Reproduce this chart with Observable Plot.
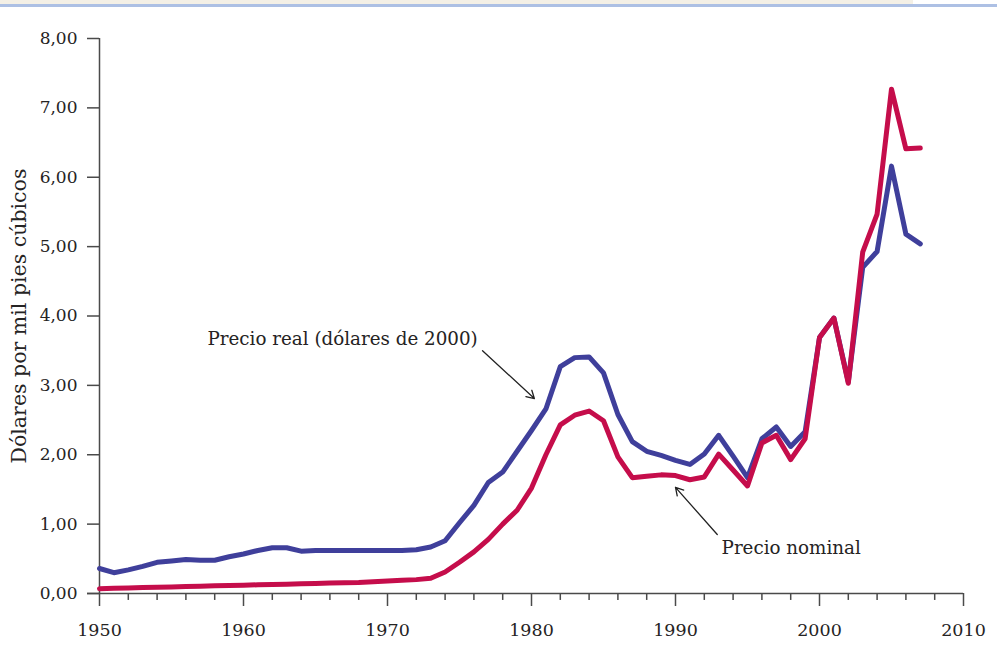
<!DOCTYPE html>
<html><head><meta charset="utf-8">
<script src="https://cdn.jsdelivr.net/npm/d3@7"></script>
<script src="https://cdn.jsdelivr.net/npm/@observablehq/plot@0.6"></script>
<style>
body{margin:0;background:#fff;}
#chart{position:absolute;left:0;top:0;}
#top1{position:absolute;left:0;top:0;width:913px;height:4px;background:#f4f0e6;}
#top2{position:absolute;left:0;top:4px;width:997px;height:3px;background:#adc0e4;}
</style></head><body>
<div id="chart"></div><div id="top1"></div><div id="top2"></div>
<script>
const years = [1950,1951,1952,1953,1954,1955,1956,1957,1958,1959,
  1960,1961,1962,1963,1964,1965,1966,1967,1968,1969,
  1970,1971,1972,1973,1974,1975,1976,1977,1978,1979,
  1980,1981,1982,1983,1984,1985,1986,1987,1988,1989,
  1990,1991,1992,1993,1994,1995,1996,1997,1998,1999,
  2000,2001,2002,2003,2004,2005,2006,2007];
const realPrice = [0.36,0.30,0.34,0.39,0.45,0.47,0.49,0.48,0.48,0.53,
  0.57,0.62,0.66,0.66,0.61,0.62,0.62,0.62,0.62,0.62,
  0.62,0.62,0.63,0.67,0.76,1.02,1.27,1.60,1.75,2.05,
  2.35,2.66,3.27,3.40,3.41,3.18,2.58,2.19,2.05,1.99,
  1.92,1.86,2.01,2.28,1.98,1.67,2.23,2.40,2.12,2.33,
  3.69,3.97,3.05,4.70,4.93,6.16,5.18,5.04];
const nominalPrice = [0.07,0.075,0.08,0.085,0.09,0.095,0.10,0.105,0.11,0.115,
  0.12,0.125,0.13,0.135,0.14,0.145,0.15,0.155,0.16,0.17,
  0.18,0.19,0.20,0.22,0.31,0.45,0.60,0.78,1.00,1.20,
  1.52,2.00,2.43,2.57,2.63,2.49,1.97,1.67,1.69,1.71,
  1.70,1.64,1.68,2.01,1.78,1.55,2.17,2.28,1.93,2.23,
  3.69,3.97,3.03,4.92,5.47,7.27,6.41,6.42];
const yTicks = [0,1,2,3,4,5,6,7,8];
const majorYears = [1950,1960,1970,1980,1990,2000,2010];
const minorYears = [1952,1954,1956,1958,1962,1964,1966,1968,1972,1974,1976,1978,1982,1984,1986,1988,1992,1994,1996,1998,2002,2004,2006,2008];
const seriesNames = ["Precio real (dólares de 2000)", "Precio nominal"];
const seriesColors = ["#3f3f9b", "#c50d4b"];
const yLabel = "Dólares por mil pies cúbicos";

const realData = years.map((y,i)=>({year:y, value:realPrice[i]}));
const nomData = years.map((y,i)=>({year:y, value:nominalPrice[i]}));
const notes = [
  {text: seriesNames[0], x: 1957.5, y: 3.66, x1: 1976.6, y1: 3.50, x2: 1980.2, y2: 2.81},
  {text: seriesNames[1], x: 1993.2, y: 0.65, x1: 1992.9, y1: 0.85, x2: 1990.0, y2: 1.53}
];
const axisColor = "#4a4a4a";
const textColor = "#252323";
const font = "'DejaVu Serif', serif";

const chart = Plot.plot({
  width: 997, height: 653,
  marginLeft: 99, marginRight: 34, marginTop: 38, marginBottom: 60,
  x: {domain: [1950, 2010]},
  y: {domain: [0, 8]},
  style: {fontFamily: font, fontSize: "17px", color: textColor, background: "white"},
  marks: [
    Plot.axisY({ticks: yTicks, tickSize: 12, tickPadding: 10, stroke: axisColor, strokeWidth: 1.5,
      tickFormat: d => d.toFixed(2).replace(".", ","), label: null, fontSize: 17, fill: textColor}),
    Plot.axisX({ticks: majorYears, tickSize: 13, tickPadding: 17, stroke: axisColor, strokeWidth: 1.5,
      tickFormat: d => String(d), label: null, fontSize: 17.5, fill: textColor}),
    Plot.ruleX(minorYears, {x: d => d, y1: 0, y2: -0.1, stroke: axisColor, strokeWidth: 1.5}),
    Plot.ruleY([0], {x1: 1949.17, x2: 2010, stroke: axisColor, strokeWidth: 1.5}),
    Plot.ruleX([1950], {y1: 0, y2: 8, stroke: axisColor, strokeWidth: 1.5}),
    Plot.text([yLabel], {frameAnchor: "left", dx: -80, rotate: -90, textAnchor: "middle", fontSize: 20.5, fill: textColor, text: d => d, y: 4.0}),
    Plot.line(realData, {x: "year", y: "value", stroke: seriesColors[0], strokeWidth: 5, strokeLinejoin: "round"}),
    Plot.line(nomData, {x: "year", y: "value", stroke: seriesColors[1], strokeWidth: 5, strokeLinejoin: "round"}),
    Plot.arrow(notes, {x1: "x1", y1: "y1", x2: "x2", y2: "y2", stroke: "#222", strokeWidth: 1.3, headLength: 10}),
    Plot.text(notes, {x: "x", y: "y", text: "text", textAnchor: "start", fontSize: 18.3, fill: textColor})
  ]
});
document.getElementById("chart").appendChild(chart);
</script></body></html>
